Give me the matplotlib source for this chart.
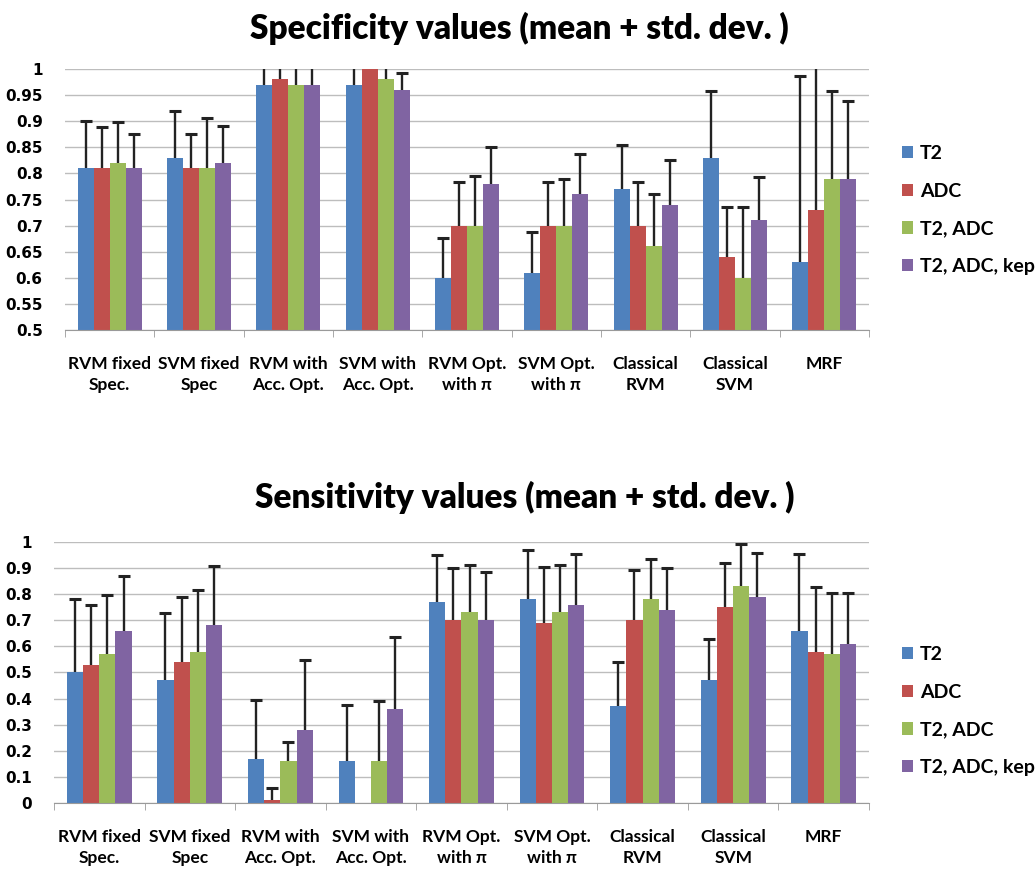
import numpy as np
import matplotlib
matplotlib.use("Agg")
from matplotlib import pyplot as plt
from matplotlib.patches import Patch
from matplotlib.ticker import FixedLocator

categories = ["RVM fixed\nSpec.", "SVM fixed\nSpec", "RVM with\nAcc. Opt.", "SVM with\nAcc. Opt.",
              "RVM Opt.\nwith \u03c0", "SVM Opt.\nwith \u03c0", "Classical\nRVM", "Classical\nSVM", "MRF"]
series = ["T2", "ADC", "T2, ADC", "T2, ADC, kep"]
colors = ["#4F81BD", "#C0504D", "#9BBB59", "#8064A2"]

# specificity: mean and std per series
spec_t2 = [0.81, 0.83, 0.97, 0.97, 0.60, 0.61, 0.77, 0.83, 0.63]
spec_adc = [0.81, 0.81, 0.98, 1.00, 0.70, 0.70, 0.70, 0.64, 0.73]
spec_t2adc = [0.82, 0.81, 0.97, 0.98, 0.70, 0.70, 0.66, 0.60, 0.79]
spec_kep = [0.81, 0.82, 0.97, 0.96, 0.78, 0.76, 0.74, 0.71, 0.79]
spec_t2_sd = [0.090, 0.090, 0.050, 0.050, 0.077, 0.078, 0.084, 0.127, 0.357]
spec_adc_sd = [0.078, 0.065, 0.040, 0.030, 0.084, 0.084, 0.084, 0.096, 0.300]
spec_t2adc_sd = [0.079, 0.097, 0.050, 0.040, 0.095, 0.090, 0.101, 0.136, 0.168]
spec_kep_sd = [0.065, 0.071, 0.050, 0.032, 0.070, 0.077, 0.085, 0.084, 0.149]

# sensitivity: mean and std per series (nan = no bar)
sens_t2 = [0.50, 0.47, 0.17, 0.16, 0.77, 0.78, 0.37, 0.47, 0.66]
sens_adc = [0.53, 0.54, 0.01, np.nan, 0.70, 0.69, 0.70, 0.75, 0.58]
sens_t2adc = [0.57, 0.58, 0.16, 0.16, 0.73, 0.73, 0.78, 0.83, 0.57]
sens_kep = [0.66, 0.68, 0.28, 0.36, 0.70, 0.76, 0.74, 0.79, 0.61]
sens_t2_sd = [0.282, 0.258, 0.225, 0.215, 0.180, 0.189, 0.170, 0.160, 0.293]
sens_adc_sd = [0.229, 0.249, 0.046, np.nan, 0.199, 0.214, 0.193, 0.171, 0.249]
sens_t2adc_sd = [0.226, 0.237, 0.074, 0.230, 0.182, 0.182, 0.154, 0.164, 0.235]
sens_kep_sd = [0.210, 0.227, 0.269, 0.276, 0.183, 0.193, 0.159, 0.169, 0.195]

spec_ticks = [0.5, 0.55, 0.6, 0.65, 0.7, 0.75, 0.8, 0.85, 0.9, 0.95, 1.0]
spec_ticklabels = ["0.5", "0.55", "0.6", "0.65", "0.7", "0.75", "0.8", "0.85", "0.9", "0.95", "1"]
sens_ticks = [0, 0.1, 0.2, 0.3, 0.4, 0.5, 0.6, 0.7, 0.8, 0.9, 1.0]
sens_ticklabels = ["0", "0.1", "0.2", "0.3", "0.4", "0.5", "0.6", "0.7", "0.8", "0.9", "1"]


def draw_panel(ax, means, sds, ylim, ticks, ticklabels):
    x = np.arange(len(categories))
    width = 0.179
    for i, (m, s) in enumerate(zip(means, sds)):
        pos = x + (i - 1.5) * width
        m = np.array(m)
        top = m + np.array(s)
        ax.bar(pos, m - ylim[0], width, bottom=ylim[0], color=colors[i], zorder=2)
        # upper-only error bars, cap only at the top
        ax.vlines(pos, m, top, color="#222222", linewidth=1.7, zorder=3)
        ax.plot(pos, top, linestyle="none", marker="_", markersize=8,
                markeredgewidth=2.2, color="#222222", zorder=3)
    ax.set_xlim(-0.5, len(categories) - 0.5)
    ax.set_ylim(*ylim)
    ax.set_yticks(ticks)
    ax.set_yticklabels(ticklabels, fontsize=11, fontweight="bold")
    ax.grid(axis="y", color="#bdbdbd", linewidth=1.0, zorder=0)
    ax.set_axisbelow(True)
    ax.set_xticks(x)
    ax.set_xticklabels(categories, family="Lato", fontsize=12.5, fontweight="bold",
                       linespacing=1.35)
    ax.xaxis.set_minor_locator(FixedLocator(np.arange(len(categories) + 1) - 0.5))
    ax.tick_params(axis="x", which="major", length=0, pad=19)
    ax.tick_params(axis="x", which="minor", length=5, color="#9a9a9a")
    ax.tick_params(axis="y", length=0, pad=16)
    for side in ["top", "right", "left"]:
        ax.spines[side].set_visible(False)
    ax.spines["bottom"].set_color("#9a9a9a")
    ax.spines["bottom"].set_zorder(4)


fig = plt.figure(figsize=(10.36, 8.71), dpi=100)

ax1 = fig.add_axes([0.0627, 0.6211, 0.7761, 0.2997])
draw_panel(ax1, [spec_t2, spec_adc, spec_t2adc, spec_kep],
           [spec_t2_sd, spec_adc_sd, spec_t2adc_sd, spec_kep_sd],
           (0.5, 1.0), spec_ticks, spec_ticklabels)

ax2 = fig.add_axes([0.0521, 0.0781, 0.7867, 0.2997])
draw_panel(ax2, [sens_t2, sens_adc, sens_t2adc, sens_kep],
           [sens_t2_sd, sens_adc_sd, sens_t2adc_sd, sens_kep_sd],
           (0.0, 1.0), sens_ticks, sens_ticklabels)

fig.text(519 / 1036, 1 - 28 / 871, "Specificity values (mean + std. dev. )", ha="center", va="center",
         family="Lato", fontsize=24, fontweight="heavy")
fig.text(525 / 1036, 1 - 497 / 871, "Sensitivity values (mean + std. dev. )", ha="center", va="center",
         family="Lato", fontsize=24, fontweight="heavy")

handles = [Patch(facecolor=c) for c in colors]
for top_px in [145, 646]:
    fig.legend(handles, series, loc="upper left", bbox_to_anchor=(0.871, 1 - top_px / 871),
               frameon=False, handlelength=0.55, handleheight=0.6, handletextpad=0.35,
               labelspacing=1.06, borderaxespad=0, borderpad=0,
               prop={"family": "Lato", "weight": "bold", "size": 14})

fig.savefig("out.png", dpi=100)
